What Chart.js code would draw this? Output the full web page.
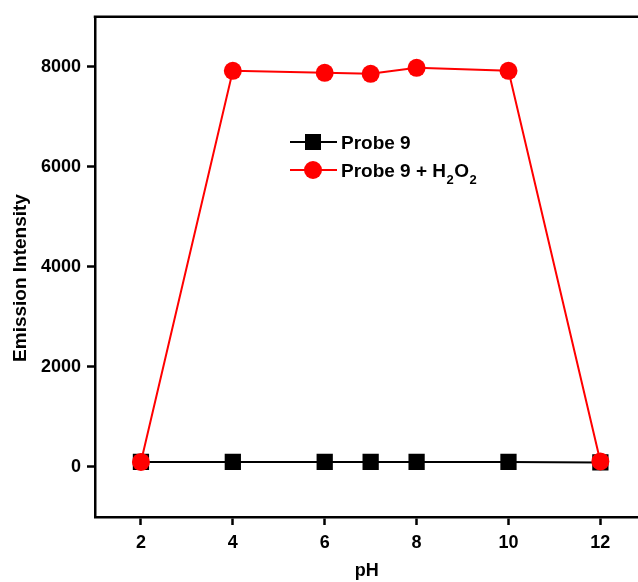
<!DOCTYPE html>
<html><head><meta charset="utf-8">
<script src="https://cdn.jsdelivr.net/npm/chart.js@4/dist/chart.umd.min.js"></script>
<style>
html,body{margin:0;padding:0;background:#fff;overflow:hidden;}
#wrap{width:638px;height:582px;overflow:hidden;position:relative;}
canvas{position:absolute;left:0;top:0;}
</style></head>
<body><div id="wrap"><canvas id="c" width="650" height="582"></canvas></div>
<script>
const pH = [2, 4, 6, 7, 8, 10, 12];
const probe9 = [100, 100, 100, 100, 100, 100, 90];
const probe9H2O2 = [100, 7920, 7880, 7860, 7980, 7920, 110];
const xTicks = [2, 4, 6, 8, 10, 12];
const yTicks = [0, 2000, 4000, 6000, 8000];
const seriesLabels = ['Probe 9', 'Probe 9 + H_2O_2'];
const yTitle = 'Emission Intensity';

const FONT = "'Liberation Sans', Arial, sans-serif";

const frame = {
  id: 'frame',
  afterDraw(chart) {
    const {ctx, chartArea: a} = chart;
    ctx.save();
    ctx.strokeStyle = '#000';
    ctx.lineWidth = 2.5;
    ctx.beginPath();
    ctx.moveTo(a.left - 1.25, a.top);
    ctx.lineTo(a.right, a.top);
    ctx.stroke();
    // y title
    ctx.save();
    ctx.translate(21, 278);
    ctx.rotate(-Math.PI / 2);
    ctx.font = 'bold 19px ' + FONT;
    ctx.fillStyle = '#000';
    ctx.textAlign = 'center';
    ctx.textBaseline = 'middle';
    ctx.fillText(yTitle, 0, 0);
    ctx.restore();
    // legend
    const rows = [{ds: chart.data.datasets[0], y: 142}, {ds: chart.data.datasets[1], y: 170}];
    rows.forEach(r => {
      const ds = r.ds;
      ctx.strokeStyle = ds.borderColor;
      ctx.lineWidth = 2;
      ctx.beginPath(); ctx.moveTo(290, r.y); ctx.lineTo(337, r.y); ctx.stroke();
      ctx.fillStyle = ds.pointBackgroundColor;
      if (ds.pointStyle === 'rect') { ctx.fillRect(313 - 8, r.y - 8, 16, 16); }
      else { ctx.beginPath(); ctx.arc(313, r.y, 9, 0, Math.PI * 2); ctx.fill(); }
      ctx.fillStyle = '#000';
      ctx.textBaseline = 'alphabetic';
      ctx.textAlign = 'left';
      let x = 341;
      const parts = ds.label.split(/(_\d)/);
      parts.forEach(p => {
        if (!p) return;
        if (p.startsWith('_')) {
          ctx.font = 'bold 13px ' + FONT;
          ctx.fillText(p.slice(1), x + 0.5, r.y + 14);
          x += ctx.measureText(p.slice(1)).width + 1;
        } else {
          ctx.font = 'bold 19px ' + FONT;
          ctx.fillText(p, x, r.y + 7);
          x += ctx.measureText(p).width;
        }
      });
    });
    ctx.restore();
  }
};

new Chart(document.getElementById('c'), {
  type: 'line',
  data: {
    datasets: [
      {
        label: seriesLabels[0], order: 2,
        data: pH.map((x, i) => ({x, y: probe9[i]})),
        borderColor: '#000', backgroundColor: '#000',
        pointBackgroundColor: '#000', pointBorderColor: '#000',
        pointStyle: 'rect', pointRadius: 11.5, borderWidth: 2, pointBorderWidth: 0
      },
      {
        label: seriesLabels[1], order: 1,
        data: pH.map((x, i) => ({x, y: probe9H2O2[i]})),
        borderColor: '#ff0000', backgroundColor: '#ff0000',
        pointBackgroundColor: '#ff0000', pointBorderColor: '#ff0000',
        pointStyle: 'circle', pointRadius: 9, borderWidth: 2, pointBorderWidth: 0
      }
    ]
  },
  options: {
    responsive: false, animation: false, devicePixelRatio: 1,
    layout: {padding: {left: 0, top: 13, right: 0, bottom: 0}},
    plugins: {legend: {display: false}, tooltip: {enabled: false}},
    scales: {
      x: {
        type: 'linear', min: 1, max: 12.83,
        afterBuildTicks: s => { s.ticks = xTicks.map(v => ({value: v})); },
        afterFit: s => { s.height = 65; },
        border: {display: true, color: '#000', width: 2.5},
        grid: {drawOnChartArea: false, drawTicks: true, tickLength: 8, tickWidth: 2.5, tickColor: '#000'},
        ticks: {color: '#000', font: {family: FONT, size: 18, weight: 'bold'}, padding: 7, maxRotation: 0,
                callback: v => String(v)},
        title: {display: true, text: 'pH', color: '#000', font: {family: FONT, size: 18, weight: 'bold'}, padding: {top: 2, bottom: 0}}
      },
      y: {
        min: -1000, max: 9000,
        afterBuildTicks: s => { s.ticks = yTicks.map(v => ({value: v})); },
        afterFit: s => { s.width = 95; },
        border: {display: true, color: '#000', width: 2.5},
        grid: {drawOnChartArea: false, drawTicks: true, tickLength: 8, tickWidth: 2.5, tickColor: '#000'},
        ticks: {color: '#000', font: {family: FONT, size: 18, weight: 'bold'}, padding: 6,
                callback: v => String(v)},
        title: {display: false}
      }
    }
  },
  plugins: [frame]
});
</script></body></html>
